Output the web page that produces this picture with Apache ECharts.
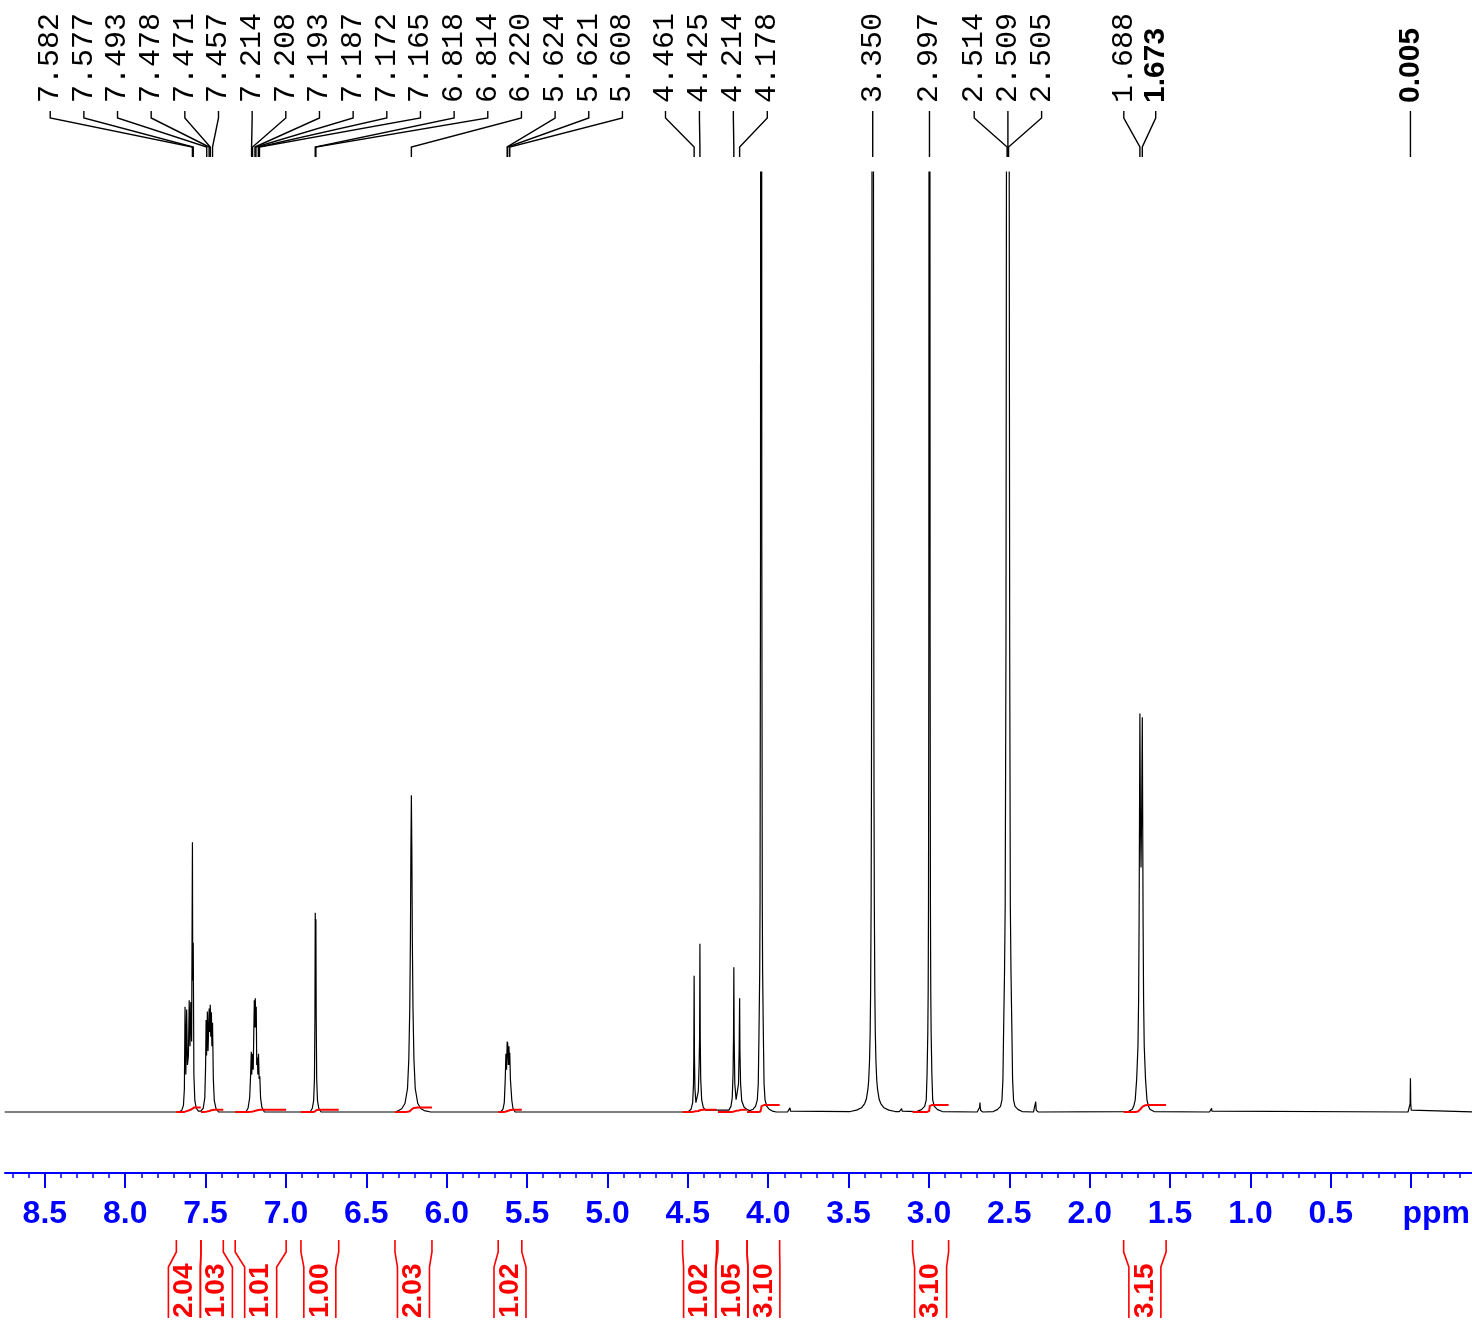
<!DOCTYPE html>
<html><head><meta charset="utf-8">
<script src="https://cdn.jsdelivr.net/npm/echarts@6/dist/echarts.min.js"></script>
<style>html,body{margin:0;padding:0;background:#fff;overflow:hidden}#c{width:1472px;height:1326px}</style>
</head><body><div id="c"></div><script>
// ---------- DATA (ppm, intensity) ----------
const baseStart = [[8.75, 0]];
const multA = [[7.665,0],[7.648,0.2],[7.638,0.7],[7.632,2.5],[7.628,11.2],[7.623,4.0],[7.618,10.9],[7.613,5.0],[7.607,6.0],[7.602,11.9],[7.597,7.0],[7.592,11.7],[7.587,7.5],[7.582,28.7],[7.580,14.0],[7.577,18.0],[7.573,4.0],[7.567,1.2],[7.558,0.4],[7.545,0.1]];
const multB = [[7.530,0.1],[7.515,0.4],[7.505,1.5],[7.500,5.0],[7.497,9.8],[7.494,6.0],[7.489,10.7],[7.485,6.5],[7.478,11.0],[7.475,8.5],[7.471,11.4],[7.468,8.0],[7.464,10.6],[7.461,7.0],[7.457,9.5],[7.452,3.5],[7.446,1.2],[7.436,0.4],[7.420,0]];
const multC = [[7.250,0],[7.236,0.4],[7.226,1.5],[7.220,4.0],[7.216,6.4],[7.213,4.0],[7.209,6.2],[7.204,4.5],[7.197,11.9],[7.194,9.0],[7.191,12.1],[7.188,9.0],[7.185,11.2],[7.182,5.0],[7.178,5.8],[7.175,4.0],[7.171,6.2],[7.167,3.5],[7.163,3.8],[7.158,1.5],[7.150,0.5],[7.135,0]];
const peak6818 = [[6.850,0],[6.836,0.4],[6.828,1.2],[6.823,3.5],[6.820,10.0],[6.818,21.2],[6.816,15.0],[6.814,20.5],[6.812,10.0],[6.809,3.5],[6.804,1.2],[6.796,0.4],[6.782,0]];
const peak6220 = [[6.320,0],[6.300,0.15],[6.280,0.35],[6.260,0.9],[6.244,2.5],[6.236,5.6],[6.230,11.0],[6.226,18.3],[6.223,27.8],[6.220,33.7],[6.217,27.8],[6.214,18.3],[6.210,11.0],[6.204,5.6],[6.196,2.5],[6.180,0.9],[6.160,0.35],[6.140,0.15],[6.100,0]];
const mult5620 = [[5.665,0],[5.650,0.3],[5.642,1.0],[5.636,3.5],[5.632,6.2],[5.628,4.5],[5.624,7.5],[5.622,6.5],[5.621,7.4],[5.617,5.0],[5.613,7.0],[5.610,5.0],[5.608,6.3],[5.604,3.5],[5.600,3.5],[5.595,1.2],[5.588,0.4],[5.575,0]];
const doub4440 = [[4.500,0],[4.480,0.3],[4.470,1.0],[4.465,3.0],[4.463,6.0],[4.461,14.5],[4.459,6.0],[4.456,2.5],[4.450,1.0],[4.443,1.0],[4.435,2.2],[4.430,5.0],[4.427,8.0],[4.425,17.9],[4.423,8.0],[4.420,3.5],[4.414,1.3],[4.404,0.5],[4.390,0.2]];
const doub4200 = [[4.245,0.2],[4.232,0.6],[4.224,1.5],[4.219,4.0],[4.216,8.0],[4.214,15.4],[4.212,8.0],[4.208,3.0],[4.200,1.3],[4.192,1.3],[4.185,3.0],[4.181,6.5],[4.178,12.1],[4.176,6.5],[4.172,3.0],[4.165,1.2],[4.150,0.5],[4.130,0.25]];
const sing4044 = [[4.114,0.15],[4.094,0.3],[4.079,0.6],[4.068,1.3],[4.062,3.0],[4.0575,8.4],[4.053,15],[4.051,22],[4.048,60],[4.046,200],[4.044,900],[4.042,200],[4.040,60],[4.037,22],[4.035,15],[4.0305,8.4],[4.026,3.0],[4.020,1.3],[4.009,0.6],[3.994,0.3],[3.974,0.1],[3.950,0]];
const bump3865 = [[3.880,0],[3.868,0.1],[3.865,0.45],[3.862,0.1],[3.850,0]];
const sing3350 = [[3.490,0.05],[3.450,0.2],[3.420,0.45],[3.400,0.9],[3.390,1.35],[3.380,2.4],[3.375,3.4],[3.370,5.4],[3.366,8.4],[3.363,13],[3.360,22],[3.358,34],[3.356,60],[3.354,120],[3.352,300],[3.350,1500],[3.348,300],[3.346,120],[3.344,60],[3.342,34],[3.340,22],[3.337,13],[3.334,8.4],[3.330,5.4],[3.325,3.4],[3.320,2.4],[3.310,1.35],[3.300,0.9],[3.280,0.45],[3.250,0.2],[3.210,0.05]];
const bump3170 = [[3.185,0.03],[3.173,0.1],[3.170,0.35],[3.167,0.1],[3.155,0.03]];
const sing2997 = [[3.077,0.05],[3.047,0.25],[3.027,0.6],[3.017,1.3],[3.012,4],[3.0074,8.4],[3.005,13],[3.003,22],[3.001,50],[2.999,150],[2.997,1000],[2.995,150],[2.993,50],[2.991,22],[2.989,13],[2.9866,8.4],[2.982,4],[2.977,1.3],[2.967,0.6],[2.947,0.25],[2.917,0.05]];
const bump2683 = [[2.700,0],[2.688,0.15],[2.685,0.5],[2.683,1.0],[2.681,0.5],[2.678,0.15],[2.665,0]];
const mult2509 = [[2.600,0.05],[2.575,0.25],[2.555,0.6],[2.546,1.3],[2.540,3.5],[2.536,8.4],[2.530,15],[2.526,22],[2.521,50],[2.517,120],[2.514,500],[2.5115,150],[2.509,800],[2.507,150],[2.505,500],[2.502,120],[2.498,50],[2.494,22],[2.490,15],[2.484,8.4],[2.480,3.5],[2.474,1.3],[2.465,0.6],[2.445,0.25],[2.420,0.05]];
const bump2336 = [[2.350,0],[2.339,0.2],[2.336,1.1],[2.333,0.2],[2.320,0]];
const doub1680 = [[1.760,0.05],[1.735,0.3],[1.725,0.7],[1.717,1.3],[1.708,3.5],[1.700,7],[1.696,11.9],[1.693,20],[1.690,33],[1.688,42.4],[1.685,32],[1.681,26],[1.677,32],[1.673,42.0],[1.671,33],[1.668,20],[1.665,11.9],[1.661,7],[1.653,3.5],[1.644,1.3],[1.636,0.7],[1.626,0.3],[1.600,0.05]];
const bump1242 = [[1.255,0],[1.244,0.1],[1.242,0.4],[1.240,0.1],[1.230,0]];
const peakTMS = [[0.020,0],[0.010,0.2],[0.007,0.9],[0.005,3.6],[0.003,0.9],[0.000,0.2],[-0.010,0]];
const baseEnd = [[-0.40, 0]];

const peakLabels = [7.582,7.577,7.493,7.478,7.471,7.457,7.214,7.208,7.193,7.187,7.172,7.165,6.818,6.814,6.220,5.624,5.621,5.608,4.461,4.425,4.214,4.178,3.350,2.997,2.514,2.509,2.505,1.688,1.673,0.005];
const boldLabels = [1.673, 0.005];

const integralFrom   = [7.682,7.529,7.316,6.907,6.322,5.680,4.533,4.313,4.132,3.102,1.789];
const integralTo     = [7.529,7.390,6.999,6.672,6.092,5.533,4.321,4.132,3.929,2.878,1.525];
const integralValues = [2.04,1.03,1.01,1.00,2.03,1.02,1.02,1.05,3.10,3.10,3.15];

const majorTicks = [8.5,8.0,7.5,7.0,6.5,6.0,5.5,5.0,4.5,4.0,3.5,3.0,2.5,2.0,1.5,1.0,0.5,0.0];

// ---------- layout / style ----------
const spectrum = [].concat(baseStart,multA,multB,multC,peak6818,peak6220,mult5620,doub4440,doub4200,sing4044,bump3865,sing3350,bump3170,sing2997,bump2683,mult2509,bump2336,doub1680,bump1242,peakTMS,baseEnd);
const minorTicks = [];
for (let k = -3; k <= 87; k++) if (k % 5 !== 0) minorTicks.push(k / 10);
const X_MIN = -0.378, X_MAX = 8.748;
const BLUE = '#0000ff', RED = '#ff0000';
const INT_SCALE = 0.24;
const labelGroups = [
  {first:0, n:18, x0:50.2, step:33.66},
  {first:18, n:4, x0:665.5, step:33.93},
  {first:24, n:3, x0:974.2, step:33.7},
  {first:27, n:2, x0:1123.8, step:31.9}
];
function columnX(i, px) {
  for (const g of labelGroups) if (i >= g.first && i < g.first + g.n) return g.x0 + (i - g.first) * g.step;
  return px;
}

function integralCurve(from, to, value) {
  const pts = spectrum.filter(p => p[0] <= from && p[0] >= to);
  const cum = [0];
  for (let i = 1; i < pts.length; i++) cum.push(cum[i-1] + (pts[i-1][1] + pts[i][1]) / 2 * (pts[i-1][0] - pts[i][0]));
  const total = cum[cum.length-1] || 1;
  const H = value * INT_SCALE;
  return [[from, 0]].concat(pts.map((p, i) => [p[0], cum[i] / total * H]), [[to, H]]);
}

function layoutBoxes(centers, w) {
  let cl = centers.map((c, i) => ({idx:[i], sum:c, n:1, center:c}));
  let changed = true;
  while (changed) {
    changed = false;
    for (let k = 0; k < cl.length - 1; k++) {
      const a = cl[k], b = cl[k+1];
      const aR = a.center + (a.n-1) * w / 2, bL = b.center - (b.n-1) * w / 2;
      if (bL - aR < w) {
        const m = {idx:a.idx.concat(b.idx), sum:a.sum+b.sum, n:a.n+b.n};
        m.center = m.sum / m.n;
        cl.splice(k, 2, m); changed = true; break;
      }
    }
  }
  const pos = [];
  cl.forEach(c => { const s = c.center - (c.n-1) * w / 2; c.idx.forEach((id, j) => pos[id] = s + j * w); });
  return pos;
}

const chart = echarts.init(document.getElementById('c'));
const series = [{
  type:'line', data:spectrum, showSymbol:false, symbol:'none', sampling:null,
  lineStyle:{color:'#000', width:1.2}, clip:true, z:2, animation:false, silent:true
}];
integralValues.forEach((v, i) => {
  series.push({type:'line', data:integralCurve(integralFrom[i], integralTo[i], v), showSymbol:false, symbol:'none',
    lineStyle:{color:RED, width:2}, z:3, silent:true, animation:false});
});
series.push({
  type:'custom', coordinateSystem:'cartesian2d', clip:false, silent:true, z:5,
  data: peakLabels.map((v, i) => [v, 0, i]), encode:{x:0, y:1},
  renderItem: (params, api) => {
    const ppm = api.value(0), i = api.value(2);
    const px = api.coord([ppm, 0])[0];
    const cx = columnX(i, px);
    const bold = boldLabels.indexOf(ppm) >= 0;
    return {type:'group', children:[
      {type:'polyline', shape:{points:[[cx,111],[cx,118],[px,147],[px,157]]}, style:{stroke:'#000', lineWidth:1.4, fill:null}},
      {type:'text', x:cx, y:103, rotation:Math.PI/2, style:{text: ppm.toFixed(3), fill:'#000',
        font: bold ? 'bold 30px "Liberation Sans"' : '30px "Liberation Mono"', align:'left', verticalAlign:'middle'}}
    ]};
  }
});
series.push({
  type:'custom', coordinateSystem:'cartesian2d', clip:false, silent:true, z:5,
  data: integralValues.map((v, i) => [integralFrom[i], 0, integralTo[i], v]), encode:{x:0, y:1},
  renderItem: (params, api) => {
    const centers = integralFrom.map((f, j) => (api.coord([f,0])[0] + api.coord([integralTo[j],0])[0]) / 2);
    const boxes = layoutBoxes(centers, 32);
    const i = params.dataIndex;
    const x1 = api.coord([api.value(0),0])[0], x2 = api.coord([api.value(2),0])[0];
    const bc = boxes[i], b1 = bc - 16, b2 = bc + 16;
    return {type:'group', children:[
      {type:'polyline', shape:{points:[[x1,1240],[x1,1252],[b1,1267],[b1,1318]]}, style:{stroke:RED, lineWidth:1.6, fill:null}},
      {type:'polyline', shape:{points:[[x2,1240],[x2,1252],[b2,1267],[b2,1318]]}, style:{stroke:RED, lineWidth:1.6, fill:null}},
      {type:'text', x:bc, y:1318, rotation:Math.PI/2, style:{text: api.value(3).toFixed(2), fill:RED,
        font:'bold 28px "Liberation Sans"', align:'left', verticalAlign:'middle'}}
    ]};
  }
});

chart.setOption({
  backgroundColor:'#ffffff',
  animation:false,
  grid:{left:5, right:0, top:172, bottom:153, containLabel:false, outerBoundsMode:'none'},
  xAxis:[{
    type:'value', min:X_MIN, max:X_MAX, inverse:true, position:'bottom',
    axisLine:{show:true, onZero:false, lineStyle:{color:BLUE, width:2}},
    axisTick:{show:true, customValues:majorTicks, length:15, inside:false, lineStyle:{color:BLUE, width:2}},
    axisLabel:{show:true, customValues:majorTicks, margin:25, color:BLUE, fontFamily:'Liberation Sans', fontWeight:'bold', fontSize:32,
      formatter: v => Math.abs(v) < 1e-9 ? '{u|ppm}' : Number(v).toFixed(1),
      rich:{u:{color:BLUE, fontFamily:'Liberation Sans', fontWeight:'bold', fontSize:32, padding:[0,0,0,50]}}},
    splitLine:{show:false}
  },{
    type:'value', min:X_MIN, max:X_MAX, inverse:true, position:'bottom',
    axisLine:{show:false, onZero:false},
    axisTick:{show:true, customValues:minorTicks, length:5, inside:false, lineStyle:{color:BLUE, width:1.5}},
    axisLabel:{show:false, customValues:minorTicks},
    splitLine:{show:false}
  }],
  yAxis:{type:'value', min:-6.489, max:100, show:false},
  series: series
});
</script></body></html>
